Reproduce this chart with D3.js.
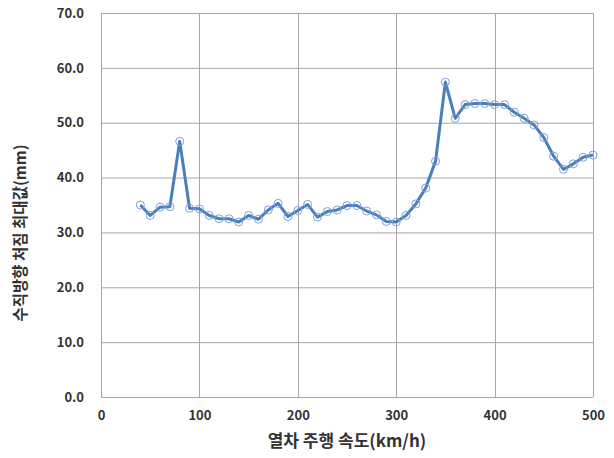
<!DOCTYPE html>
<html>
<head>
<meta charset="utf-8">
<script src="https://cdn.jsdelivr.net/npm/d3@7"></script>
<style>
  body { margin: 0; background: #fff; }
  text { font-family: "Noto Sans CJK KR", "Noto Sans", sans-serif; }
</style>
</head>
<body>
<div id="chart"></div>
<script>
const speeds = [40, 50, 60, 70, 80, 90, 100, 110, 120, 130, 140, 150, 160, 170, 180, 190, 200,
  210, 220, 230, 240, 250, 260, 270, 280, 290, 300, 310, 320, 330, 340, 350, 360, 370, 380,
  390, 400, 410, 420, 430, 440, 450, 460, 470, 480, 490, 500]
const maxDisp = [35.0, 33.1, 34.6, 34.7, 46.6, 34.4, 34.3, 33.1, 32.5, 32.5, 31.9, 33.1, 32.4, 34.1, 35.3,
  32.9, 34.0, 35.1, 32.8, 33.8, 34.1, 34.9, 34.9, 33.9, 33.2, 32.0, 31.9, 33.1, 35.2, 38.1,
  43.0, 57.4, 50.8, 53.3, 53.5, 53.5, 53.3, 53.3, 51.9, 50.8, 49.6, 47.3, 43.9, 41.5, 42.5, 43.7, 44.1]
const xTicks = [0, 100, 200, 300, 400, 500]
const yTicks = [0, 10, 20, 30, 40, 50, 60, 70]

const dimensions = {
  width: 614,
  height: 458,
  margin: { top: 13, bottom: 61, right: 21, left: 101 }
}
dimensions.ctrWidth = dimensions.width - dimensions.margin.left - dimensions.margin.right
dimensions.ctrHeight = dimensions.height - dimensions.margin.top - dimensions.margin.bottom

const data = speeds.map((s, i) => ({ x: s, y: maxDisp[i] }))

const svg = d3.select('#chart')
  .append('svg')
  .attr('width', dimensions.width)
  .attr('height', dimensions.height)

const ctr = svg.append('g')
  .attr('transform', `translate(${dimensions.margin.left}, ${dimensions.margin.top})`)

const xScale = d3.scaleLinear()
  .domain([0, 500])
  .range([0, dimensions.ctrWidth])

const yScale = d3.scaleLinear()
  .domain([0, 70])
  .range([dimensions.ctrHeight, 0])

// grid
ctr.append('g')
  .selectAll('line')
  .data(yTicks)
  .join('line')
  .attr('x1', 0)
  .attr('x2', dimensions.ctrWidth)
  .attr('y1', d => yScale(d) + 0.5)
  .attr('y2', d => yScale(d) + 0.5)
  .attr('stroke', '#a6a6a6')

ctr.append('g')
  .selectAll('line')
  .data(xTicks)
  .join('line')
  .attr('x1', d => Math.round(xScale(d)) + 0.5)
  .attr('x2', d => Math.round(xScale(d)) + 0.5)
  .attr('y1', 0)
  .attr('y2', dimensions.ctrHeight)
  .attr('stroke', '#a6a6a6')

// axes
const xAxis = d3.axisBottom(xScale)
  .tickValues(xTicks)
  .tickSize(0)
  .tickPadding(14)
  .tickFormat(d3.format('d'))

const xAxisGroup = ctr.append('g')
  .attr('transform', `translate(0, ${dimensions.ctrHeight})`)
  .call(xAxis)
xAxisGroup.select('.domain').remove()
xAxisGroup.selectAll('text')
  .attr('fill', '#333')
  .style('font-size', '13px')
  .style('font-weight', 'bold')

const yAxis = d3.axisLeft(yScale)
  .tickValues(yTicks)
  .tickSize(0)
  .tickPadding(17)
  .tickFormat(d3.format('.1f'))

const yAxisGroup = ctr.append('g')
  .call(yAxis)
yAxisGroup.select('.domain').remove()
yAxisGroup.selectAll('text')
  .attr('fill', '#333')
  .style('font-size', '13px')
  .style('font-weight', 'bold')

// axis titles
xAxisGroup.append('text')
  .text('열차 주행 속도(km/h)')
  .attr('x', dimensions.ctrWidth / 2)
  .attr('y', 50)
  .attr('fill', '#333')
  .attr('text-anchor', 'middle')
  .style('font-size', '17px')
  .style('font-weight', 'bold')

// y title sits a bit below the middle of the plot
const textX = -79
const textY = 220
yAxisGroup.append('text')
  .text('수직방향 처짐 최대값(mm)')
  .attr('x', textX)
  .attr('y', textY)
  .attr('fill', '#333')
  .attr('text-anchor', 'middle')
  .attr('dominant-baseline', 'middle')
  .style('font-size', '15.5px')
  .style('font-weight', 'bold')
  .attr('transform', `rotate(270, ${textX}, ${textY})`)

// line
const line = d3.line()
  .x(d => xScale(d.x))
  .y(d => yScale(d.y))

ctr.append('path')
  .datum(data)
  .attr('d', line)
  .attr('fill', 'none')
  .attr('stroke', '#4a7ebb')
  .attr('stroke-width', 3)
  .attr('stroke-linejoin', 'round')

ctr.selectAll('circle')
  .data(data)
  .join('circle')
  .attr('cx', d => xScale(d.x))
  .attr('cy', d => yScale(d.y))
  .attr('r', 4)
  .attr('fill', 'none')
  .attr('stroke', '#7f9fd3')
  .attr('stroke-width', 1)
</script>
</body>
</html>
